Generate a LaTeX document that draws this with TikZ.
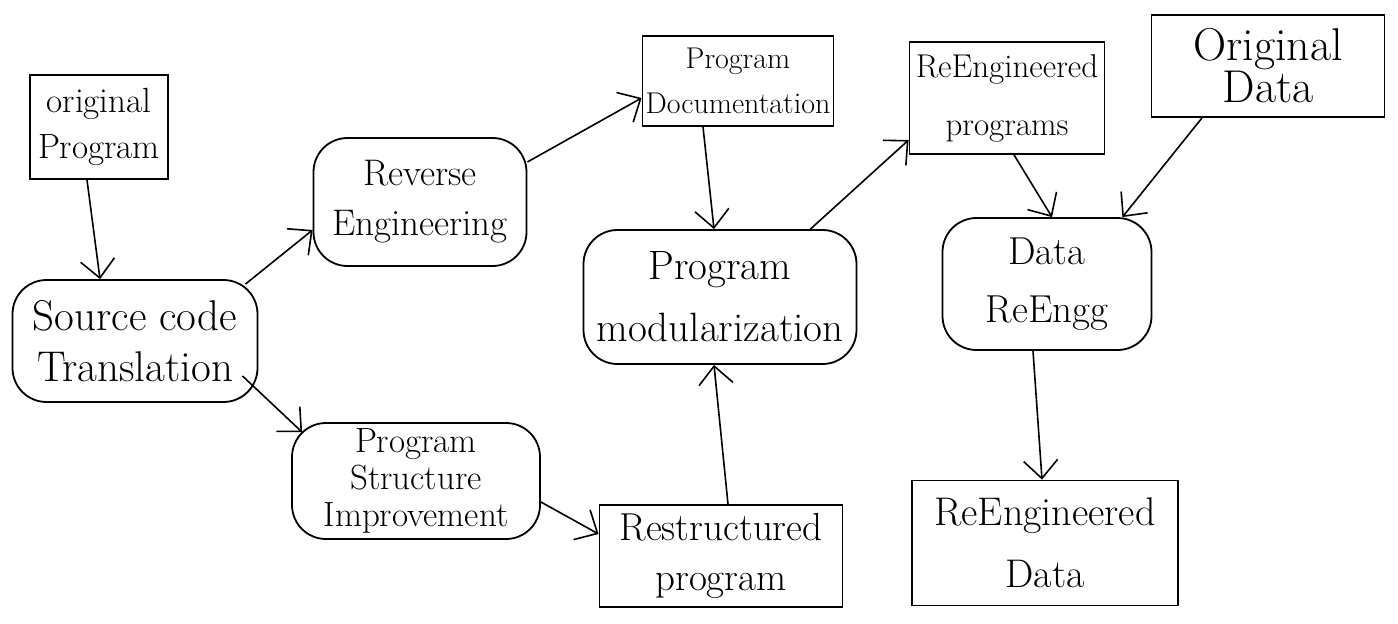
\documentclass[tikz,border=0pt]{standalone}
\usepackage{fontspec}
\usetikzlibrary{arrows.meta}
\newcommand\fsz[2]{\fontsize{#1}{#2}\selectfont}
\begin{document}
\begin{tikzpicture}[x=1pt,y=-1pt,
  box/.style={draw=black, line width=1.8pt, inner sep=0pt, align=center},
  rbox/.style={box, rounded corners=34pt},
  link/.style={line width=1.6pt, -{Straight Barb[length=18pt,width=34pt]}}]
\useasboundingbox (0,0) rectangle (1398,624);

% data and program artefacts (plain boxes)
\node[box, minimum width=138pt, minimum height=104pt, font=\fsz{35}{46}] (orig) at (99,127) {original\\Program};
\node[box, minimum width=191pt, minimum height=90pt, font=\fsz{30}{45}] (doc) at (738,81) {Program\\Documentation};
\node[box, minimum width=195pt, minimum height=112pt, font=\fsz{33}{58}] (rep) at (1007,98) {ReEngineered\\programs};
\node[box, minimum width=233pt, minimum height=102pt, font=\fsz{46}{42}] (odat) at (1268,66) {Original\\Data};
\node[box, minimum width=243pt, minimum height=102pt, font=\fsz{39}{50}] (rst) at (721,556) {Restructured\\program};
\node[box, minimum width=266pt, minimum height=125pt, font=\fsz{40}{62}] (red) at (1045,543) {ReEngineered\\Data};

% processes (rounded boxes)
\node[rbox, minimum width=245pt, minimum height=122pt, font=\fsz{43}{51}] (src) at (135,341) {Source code\\Translation};
\node[rbox, minimum width=213pt, minimum height=128pt, font=\fsz{37}{50}] (rev) at (420,202) {Reverse\\Engineering};
\node[rbox, minimum width=273pt, minimum height=134pt, font=\fsz{41}{62}] (mod) at (720,297) {Program\\modularization};
\node[rbox, minimum width=209pt, minimum height=132pt, font=\fsz{39}{58}] (dre) at (1047,284) {Data\\ReEngg};
\node[rbox, minimum width=248pt, minimum height=116pt, font=\fsz{35}{37}] (psi) at (416,481) {Program\\Structure\\Improvement};

% flows
\draw[link] ([xshift=-12pt]orig.south) -- ([xshift=-35pt]src.north);
\draw[link] ([xshift=-13pt,yshift=-5pt]src.north east) -- ([yshift=-28pt]rev.west);
\draw[link] ([xshift=-16pt,yshift=27pt]src.south east) -- ([xshift=11pt,yshift=-10pt]psi.north west);
\draw[link] ([yshift=40pt]rev.east) -- ([yshift=-17pt]doc.west);
\draw[link] ([xshift=-35pt]doc.south) -- ([xshift=-6pt]mod.north);
\draw[link] ([xshift=-47pt]mod.north east) -- ([yshift=-42pt]rep.west);
\draw[link] ([yshift=-21pt]psi.east) -- ([yshift=22pt]rst.west);
\draw[link] ([xshift=7pt]rst.north) -- ([xshift=-6pt]mod.south);
\draw[link] ([xshift=7pt]rep.south) -- ([xshift=5pt]dre.north);
\draw[link] ([xshift=-66pt]odat.south) -- ([xshift=-30pt]dre.north east);
\draw[link] ([xshift=-14pt]dre.south) -- ([xshift=-3pt]red.north);
\end{tikzpicture}
\end{document}
